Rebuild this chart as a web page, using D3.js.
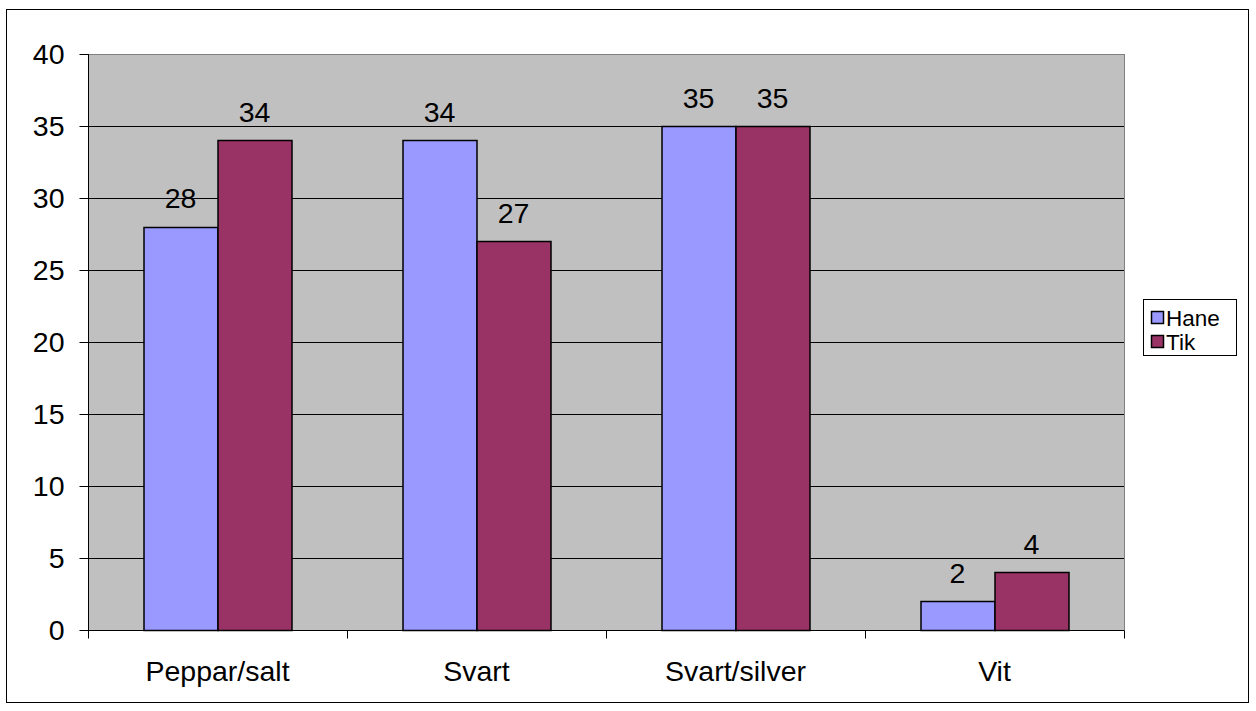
<!DOCTYPE html>
<html><head><meta charset="utf-8">
<script src="https://cdn.jsdelivr.net/npm/d3@7"></script>
<style>body{margin:0;background:#fff}svg{display:block}text{font-family:Arial,"Liberation Sans",sans-serif;fill:#000}</style>
</head><body>
<svg id="chart" width="1256" height="711"></svg>
<script>
const categories = ["Peppar/salt","Svart","Svart/silver","Vit"];
const seriesNames = ["Hane","Tik"];
const hane = [28,34,35,2];
const tik = [34,27,35,4];
const yTicks = [0,5,10,15,20,25,30,35,40];
const colors = ["#9999FF","#993366"];

const svg = d3.select("#chart");
const FS = 28.5;
const m = {l:88, t:54, r:1124, b:630};
svg.append("rect").attr("x",6.5).attr("y",9.5).attr("width",1242).attr("height",693)
  .attr("fill","#fff").attr("stroke","#000").attr("stroke-width",1);

const x = d3.scaleBand().domain(categories).range([m.l,m.r]).paddingInner(0).paddingOuter(0);
const xs = d3.scaleBand().domain(seriesNames).range([0,x.bandwidth()]).paddingInner(0).paddingOuter(0.75);
const y = d3.scaleLinear().domain([0,40]).range([m.b,m.t]);

svg.append("rect").attr("x",m.l).attr("y",m.t).attr("width",m.r-m.l).attr("height",m.b-m.t)
  .attr("fill","#C0C0C0");
svg.append("g").selectAll("line").data(yTicks.filter(d=>d>0)).join("line")
  .attr("x1",m.l).attr("x2",m.r).attr("y1",d=>Math.round(y(d))+0.5).attr("y2",d=>Math.round(y(d))+0.5)
  .attr("stroke","#000").attr("stroke-width",1);
svg.append("rect").attr("x",m.l+0.5).attr("y",m.t+0.5).attr("width",m.r-m.l).attr("height",m.b-m.t)
  .attr("fill","none").attr("stroke","#808080").attr("stroke-width",1);

const data = categories.map((c,i)=>({c, vals:[hane[i],tik[i]]}));
const g = svg.append("g");
data.forEach(d=>{
  d.vals.forEach((v,j)=>{
    const bx = x(d.c)+xs(seriesNames[j]);
    g.append("rect").attr("x",bx+0.5).attr("y",Math.round(y(v))+0.5)
      .attr("width",xs.bandwidth()).attr("height",y(0)-Math.round(y(v)))
      .attr("fill",colors[j]).attr("stroke","#000").attr("stroke-width",1.5);
    g.append("text").attr("x",bx+xs.bandwidth()/2).attr("y",y(v)-18.5)
      .attr("text-anchor","middle").attr("font-size",FS).text(v);
  });
});

const yAxis = d3.axisLeft(y).tickValues(yTicks).tickSize(9).tickPadding(15).tickFormat(d3.format("d"));
const ya = svg.append("g").attr("transform",`translate(${m.l+0.5},0)`).call(yAxis);
ya.select(".domain").attr("stroke","#000").attr("d",`M0,${m.t}V${m.b}`);
ya.selectAll(".tick line").attr("stroke","#000");
ya.selectAll("text").attr("font-size",FS).attr("font-family",'Arial,"Liberation Sans",sans-serif').attr("fill","#000").attr("dy","0.35em");

const xAxis = d3.axisBottom(x).tickSize(0).tickPadding(30);
const xa = svg.append("g").attr("transform",`translate(0,${m.b+0.5})`).call(xAxis);
xa.select(".domain").attr("stroke","#000").attr("d",`M${m.l},0H${m.r}`);
xa.selectAll("text").attr("font-size",FS).attr("font-family",'Arial,"Liberation Sans",sans-serif').attr("fill","#000");
const sep = categories.map(c=>x(c)).concat([m.r]);
xa.append("g").selectAll("line").data(sep).join("line")
  .attr("x1",d=>Math.round(d)+0.5).attr("x2",d=>Math.round(d)+0.5).attr("y1",0).attr("y2",8)
  .attr("stroke","#000");

const lg = svg.append("g").attr("transform","translate(1143,299)");
lg.append("rect").attr("x",0.5).attr("y",0.5).attr("width",93).attr("height",56)
  .attr("fill","#fff").attr("stroke","#000");
seriesNames.forEach((s,i)=>{
  lg.append("rect").attr("x",8.5).attr("y",12.5+i*24).attr("width",12).attr("height",12)
    .attr("fill",colors[i]).attr("stroke","#000").attr("stroke-width",1.5);
  lg.append("text").attr("x",23).attr("y",27+i*24).attr("font-size",22.5).text(s);
});
</script>
</body></html>
